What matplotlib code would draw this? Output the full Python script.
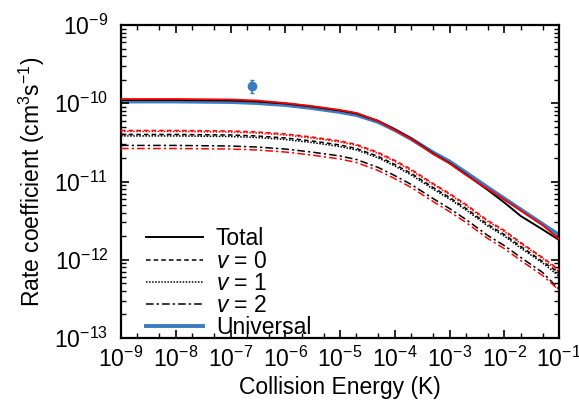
import matplotlib
matplotlib.use('Agg')
import matplotlib.pyplot as plt
from matplotlib.ticker import LogLocator, FuncFormatter, NullFormatter
import numpy as np

plt.rcParams['font.family'] = ['Liberation Sans', 'DejaVu Sans']
plt.rcParams['mathtext.fontset'] = 'custom'
plt.rcParams['mathtext.rm'] = 'Liberation Sans'
plt.rcParams['mathtext.it'] = 'Liberation Sans:italic'
plt.rcParams['mathtext.bf'] = 'Liberation Sans:bold'

# Collision energy grid (K)
energy = [1e-9, 1e-8, 1e-7, 3e-7, 1e-6, 3e-6, 1e-5, 2e-5, 5e-5, 1e-4,
          2e-4, 5e-4, 1e-3, 2e-3, 5e-3, 1e-2, 2e-2, 5e-2, 1e-1]

# Totals (units of 1e-10 cm^3 s^-1)
total_black = [1.100, 1.100, 1.085, 1.055, 0.993, 0.909, 0.808, 0.740, 0.593, 0.462,
               0.354, 0.228, 0.172, 0.123, 0.0779, 0.0539, 0.0362, 0.0244, 0.0179]
total_red = [1.133, 1.133, 1.117, 1.084, 1.007, 0.922, 0.820, 0.751, 0.593, 0.455,
             0.349, 0.225, 0.170, 0.121, 0.0802, 0.0589, 0.0426, 0.0278, 0.0184]
universal = [1.053, 1.053, 1.037, 1.007, 0.950, 0.870, 0.773, 0.708, 0.576, 0.455,
             0.349, 0.235, 0.180, 0.130, 0.0838, 0.0606, 0.0439, 0.0286, 0.0207]

# Vibrational-state resolved (units of 1e-11 cm^3 s^-1)
black_v0 = [3.99, 3.99, 3.93, 3.82, 3.60, 3.30, 2.93, 2.64, 2.09, 1.65,
            1.27, 0.839, 0.625, 0.452, 0.283, 0.210, 0.148, 0.095, 0.068]
red_v0 = [4.49, 4.49, 4.42, 4.30, 4.05, 3.71, 3.30, 2.97, 2.35, 1.86,
          1.43, 0.944, 0.703, 0.509, 0.318, 0.237, 0.166, 0.107, 0.075]
black_v1 = [3.82, 3.82, 3.76, 3.65, 3.44, 3.15, 2.80, 2.53, 2.00, 1.58,
            1.21, 0.802, 0.597, 0.432, 0.270, 0.201, 0.141, 0.091, 0.062]
red_v1 = [4.36, 4.36, 4.29, 4.17, 3.93, 3.60, 3.20, 2.89, 2.28, 1.80,
          1.38, 0.915, 0.682, 0.493, 0.308, 0.230, 0.161, 0.104, 0.070]
black_v2 = [2.89, 2.89, 2.84, 2.76, 2.60, 2.38, 2.12, 1.91, 1.51, 1.19,
            0.916, 0.606, 0.452, 0.327, 0.204, 0.152, 0.107, 0.069, 0.042]
red_v2 = [2.64, 2.64, 2.60, 2.53, 2.38, 2.18, 1.94, 1.75, 1.38, 1.09,
          0.838, 0.555, 0.413, 0.299, 0.187, 0.139, 0.098, 0.063, 0.041]

# Experimental point
exp_energy = [2.5e-7]
exp_rate = [1.66e-10]
exp_err = [0.32e-10]

E = np.array(energy)
s10 = 1e-10
s11 = 1e-11
FS = 16.5

fig = plt.figure(figsize=(5.79, 4.07), dpi=100)
ax = fig.add_axes([0.209, 0.1695, 0.7565, 0.7691])

blue = '#3b7bbf'
ax.plot(E, np.array(universal) * s10, color=blue, lw=2.8, zorder=1, label='Universal')
ax.plot(E, np.array(total_black) * s10, color='black', lw=1.4, zorder=3, label='Total')
ax.plot(E, np.array(total_red) * s10, color='red', lw=1.3, zorder=4)

ax.plot(E, np.array(black_v0) * s11, color='black', lw=1.1, ls=(0, (3, 2)), zorder=3, label='$v$ = 0')
ax.plot(E, np.array(red_v0) * s11, color='red', lw=1.1, ls=(0, (3, 2)), zorder=3)
ax.plot(E, np.array(black_v1) * s11, color='black', lw=1.1, ls=(0, (1, 1)), zorder=3, label='$v$ = 1')
ax.plot(E, np.array(red_v1) * s11, color='red', lw=1.1, ls=(0, (1, 1)), zorder=3)
ax.plot(E, np.array(black_v2) * s11, color='black', lw=1.1, ls=(0, (5, 2, 1.5, 2)), zorder=3, label='$v$ = 2')
ax.plot(E, np.array(red_v2) * s11, color='red', lw=1.1, ls=(0, (5, 2, 1.5, 2)), zorder=3)

ax.errorbar(exp_energy, exp_rate, yerr=exp_err, fmt='o', color=blue, ms=6,
            elinewidth=1.2, capsize=1.5, capthick=1.0, zorder=5)

ax.set_xscale('log')
ax.set_yscale('log')
ax.set_xlim(1e-9, 1e-1)
ax.set_ylim(1e-13, 1e-9)

fmt = FuncFormatter(lambda v, p: r'$10^{%d}$' % int(round(np.log10(v))))
ax.xaxis.set_major_locator(LogLocator(base=10, numticks=20))
ax.yaxis.set_major_locator(LogLocator(base=10, numticks=20))
ax.xaxis.set_minor_locator(LogLocator(base=10, subs=[2, 5], numticks=20))
ax.yaxis.set_minor_locator(LogLocator(base=10, subs=np.arange(2, 10), numticks=20))
ax.xaxis.set_major_formatter(fmt)
ax.yaxis.set_major_formatter(fmt)
ax.xaxis.set_minor_formatter(NullFormatter())
ax.yaxis.set_minor_formatter(NullFormatter())

ax.tick_params(which='both', direction='in', top=True, right=True, labelsize=FS)
ax.tick_params(which='major', length=6, width=1.2)
ax.tick_params(which='minor', length=3.5, width=1.0)
ax.tick_params(axis='x', which='major', pad=6)
ax.tick_params(axis='y', which='major', pad=9)
for sp in ax.spines.values():
    sp.set_linewidth(1.6)

ax.set_xlabel('Collision Energy (K)', fontsize=FS, labelpad=3)
ax.set_ylabel('Rate coefficient (cm$^3$s$^{-1}$)', fontsize=FS, labelpad=5)

handles, labels = ax.get_legend_handles_labels()
order = ['Total', '$v$ = 0', '$v$ = 1', '$v$ = 2', 'Universal']
hmap = dict(zip(labels, handles))
ax.legend([hmap[k] for k in order], order, loc='lower left', frameon=False,
          fontsize=FS, handlelength=2.5, handletextpad=0.55, labelspacing=-0.03,
          borderaxespad=0.0, bbox_to_anchor=(0.036, -0.034))

fig.savefig('out.png', dpi=100)
